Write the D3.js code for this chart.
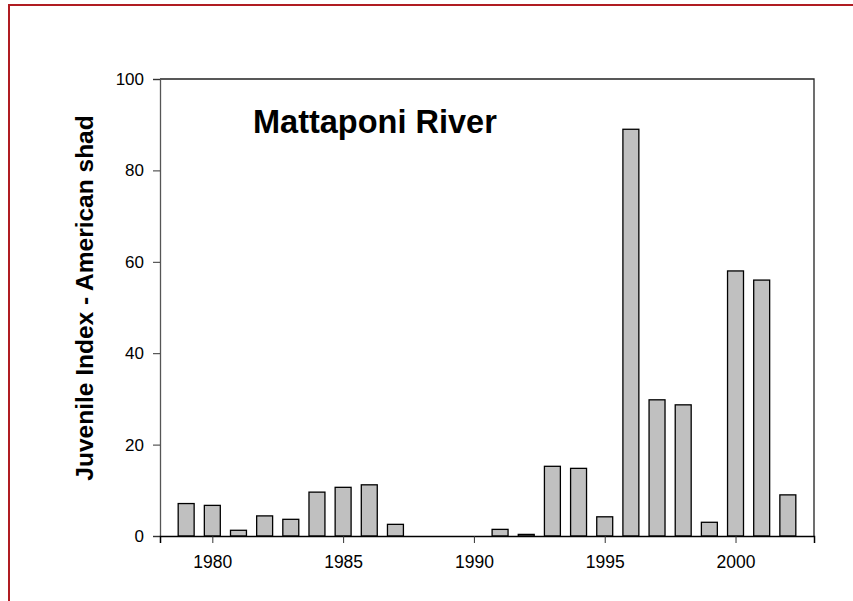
<!DOCTYPE html>
<html>
<head>
<meta charset="utf-8">
<script src="https://cdn.jsdelivr.net/npm/d3@7"></script>
<style>
  html, body { margin: 0; padding: 0; background: #fff; }
  svg { display: block; }
  text { font-family: Arial, "Liberation Sans", sans-serif; }
</style>
</head>
<body>
<svg id="chart" width="853" height="601"></svg>
<script>
const years = [1979,1980,1981,1982,1983,1984,1985,1986,1987,1988,1989,1990,1991,1992,1993,1994,1995,1996,1997,1998,1999,2000,2001,2002];
const values = [7.1,6.7,1.25,4.4,3.65,9.6,10.65,11.2,2.55,0,0,0,1.45,0.35,15.25,14.8,4.2,89.0,29.8,28.7,3.0,58.0,56.0,9.0];
const yTicks = [0,20,40,60,80,100];
const xTicks = [1980,1985,1990,1995,2000];
const title = "Mattaponi River";
const yLabel = "Juvenile Index - American shad";

const svg = d3.select("#chart");
const L = 160, R = 814, T = 79, B = 536;

// red page border
svg.append("path")
  .attr("d", `M9,601 L9,5 L853,5`)
  .attr("fill", "none").attr("stroke", "#b01c22").attr("stroke-width", 2);

const x = d3.scaleLinear().domain([1978, 2003]).range([L, R]);
const y = d3.scaleLinear().domain([0, 100]).range([B, T]);
const barW = (x(1979) - x(1978)) * 0.61;

// frame top & right
svg.append("path")
  .attr("d", `M${L},${T} L${R},${T} L${R},${B}`)
  .attr("fill", "none").attr("stroke", "#222").attr("stroke-width", 1.3);

// bars
svg.append("g").selectAll("rect")
  .data(years.map((yr, i) => ({yr, v: values[i]})).filter(d => d.v > 0))
  .enter().append("rect")
  .attr("x", d => x(d.yr) - barW / 2)
  .attr("width", barW)
  .attr("y", d => y(d.v))
  .attr("height", d => B - y(d.v))
  .attr("fill", "#c0c0c0")
  .attr("stroke", "#000")
  .attr("stroke-width", 1.3);

// y axis
const yAxis = svg.append("g").attr("transform", `translate(${L},0)`)
  .call(d3.axisLeft(y).tickValues(yTicks).tickSize(7).tickPadding(9).tickFormat(d3.format("d")));
yAxis.select(".domain").attr("stroke", "#555").attr("stroke-width", 1.3);
yAxis.selectAll(".tick line").attr("stroke", "#333");
yAxis.selectAll("text").attr("font-size", 17).attr("fill", "#000")
  .attr("font-family", "Arial, 'Liberation Sans', sans-serif");

// x axis
const xAxis = svg.append("g").attr("transform", `translate(0,${B})`)
  .call(d3.axisBottom(x).tickValues(xTicks).tickSize(7).tickPadding(13).tickFormat(d3.format("d")));
xAxis.select(".domain").attr("stroke", "#000").attr("stroke-width", 1.5);
xAxis.selectAll(".tick line").attr("stroke", "#333");
xAxis.selectAll("text").attr("font-size", 17.5).attr("fill", "#000")
  .attr("font-family", "Arial, 'Liberation Sans', sans-serif");

// title
svg.append("text")
  .attr("x", 253).attr("y", 133)
  .attr("font-size", 32.5).attr("font-weight", "bold")
  .text(title);

// y label
svg.append("text")
  .attr("transform", `translate(93,298) rotate(-90)`)
  .attr("text-anchor", "middle")
  .attr("font-size", 24.5).attr("font-weight", "bold")
  .text(yLabel);
</script>
</body>
</html>
